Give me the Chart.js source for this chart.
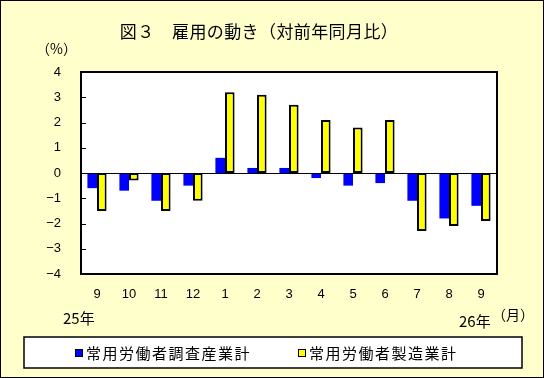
<!DOCTYPE html>
<html>
<head>
<meta charset="utf-8">
<script src="https://cdn.jsdelivr.net/npm/chart.js@4/dist/chart.umd.min.js"></script>
<style>
html,body{margin:0;padding:0;background:#FFFFCC;}
#wrap{position:relative;width:544px;height:378px;}
canvas{display:block;}
</style>
</head>
<body>
<div id="wrap"><canvas id="c" width="544" height="378"></canvas></div>
<script>
const categories = ['9','10','11','12','1','2','3','4','5','6','7','8','9'];
const industryTotal = [-0.6,-0.7,-1.1,-0.5,0.6,0.2,0.2,-0.2,-0.5,-0.4,-1.1,-1.8,-1.3];
const manufacturing = [-1.5,-0.3,-1.5,-1.1,3.2,3.1,2.7,2.1,1.8,2.1,-2.3,-2.1,-1.9];
const seriesNames = ['常用労働者調査産業計','常用労働者製造業計'];
const yMin = -4, yMax = 4;
const titleText = '図３　雇用の動き（対前年同月比）';
const unitY = '（%）';
const unitX = '（月）';
const yearStart = '25年';
const yearEnd = '26年';

const JP = '"Noto Sans CJK JP", "Noto Sans", sans-serif';
const NUM = '"Liberation Sans", Arial, sans-serif';

const deco = {
  id: 'deco',
  beforeDraw(chart) {
    const ctx = chart.ctx;
    ctx.save();
    ctx.fillStyle = '#FFFFCC';
    ctx.fillRect(0, 0, chart.width, chart.height);
    const a = chart.chartArea;
    ctx.fillStyle = '#FFFFFF';
    ctx.fillRect(a.left, a.top, a.right - a.left, a.bottom - a.top);
    ctx.restore();
  },
  afterDatasetsDraw(chart) {
    const ctx = chart.ctx;
    const a = chart.chartArea;
    const y = chart.scales.y;
    ctx.save();
    ctx.strokeStyle = '#000';
    ctx.lineWidth = 1;
    const y0 = Math.round(y.getPixelForValue(0)) + 0.5;
    ctx.beginPath(); ctx.moveTo(a.left, y0); ctx.lineTo(a.right, y0); ctx.stroke();
    for (let v = yMin + 1; v < yMax; v++) {
      const py = Math.round(y.getPixelForValue(v)) + 0.5;
      ctx.beginPath(); ctx.moveTo(a.left, py); ctx.lineTo(a.left + 5, py); ctx.stroke();
    }
    ctx.lineWidth = 2;
    ctx.strokeRect(a.left, a.top, a.right - a.left, a.bottom - a.top);
    ctx.restore();
  },
  afterDraw(chart) {
    const ctx = chart.ctx;
    ctx.save();
    ctx.fillStyle = '#000';
    ctx.textBaseline = 'middle';
    ctx.font = '17px ' + JP;
    ctx.letterSpacing = '0.4px';
    ctx.textAlign = 'center';
    ctx.fillText(titleText, 259, 32);
    ctx.font = '14px ' + JP;
    ctx.letterSpacing = '0px';
    ctx.textAlign = 'left';
    ctx.fillText(unitY, 36, 49);
    ctx.fillText(unitX, 492, 315);
    ctx.font = '15px ' + JP;
    ctx.fillText(yearStart, 63, 318);
    ctx.fillText(yearEnd, 459, 321);
    ctx.fillStyle = '#FFFFFF';
    ctx.fillRect(24, 337, 498, 31);
    ctx.strokeStyle = '#000';
    ctx.lineWidth = 1.5;
    ctx.strokeRect(24, 337, 498, 31);
    const items = [{x: 75}, {x: 298}];
    chart.data.datasets.forEach((ds, i) => {
      const ix = items[i].x;
      ctx.fillStyle = ds.backgroundColor;
      ctx.fillRect(ix, 349, 8, 8);
      ctx.strokeStyle = '#000';
      ctx.lineWidth = 1;
      ctx.strokeRect(ix + 0.5, 349.5, 7, 7);
      ctx.fillStyle = '#000';
      ctx.font = '15px ' + JP;
      ctx.letterSpacing = '1.5px';
      ctx.textAlign = 'left';
      ctx.fillText(ds.label, ix + 11, 353);
    });
    ctx.letterSpacing = '0px';
    ctx.strokeStyle = '#000';
    ctx.lineWidth = 1;
    ctx.strokeRect(0.5, 0.5, chart.width - 1, chart.height - 1);
    ctx.restore();
  }
};

new Chart(document.getElementById('c'), {
  type: 'bar',
  data: {
    labels: categories,
    datasets: [
      { label: seriesNames[0], data: industryTotal, backgroundColor: '#0000FF', borderWidth: 0,
        categoryPercentage: 0.6, barPercentage: 1.0 },
      { label: seriesNames[1], data: manufacturing, backgroundColor: '#FFFF00', borderColor: '#000000', borderWidth: 2,
        borderSkipped: false, categoryPercentage: 0.6, barPercentage: 1.0 }
    ]
  },
  options: {
    responsive: false,
    animation: false,
    devicePixelRatio: 1,
    layout: { padding: { left: 0, right: 47, top: 72, bottom: 74 } },
    plugins: { legend: { display: false }, title: { display: false }, tooltip: { enabled: false } },
    scales: {
      x: {
        grid: { display: false, drawTicks: false },
        border: { display: false },
        ticks: { color: '#000', font: { family: NUM, size: 13 }, padding: 13, maxRotation: 0, autoSkip: false },
        afterFit(s) { s.height = 30; }
      },
      y: {
        min: yMin, max: yMax,
        grid: { display: false, drawTicks: false },
        border: { display: false },
        ticks: { stepSize: 1, color: '#000', font: { family: NUM, size: 13 }, padding: 20,
          callback: v => (v < 0 ? '\u2212' + Math.abs(v) : String(v)) },
        afterFit(s) { s.width = 81; }
      }
    }
  },
  plugins: [deco]
});
</script>
</body>
</html>
